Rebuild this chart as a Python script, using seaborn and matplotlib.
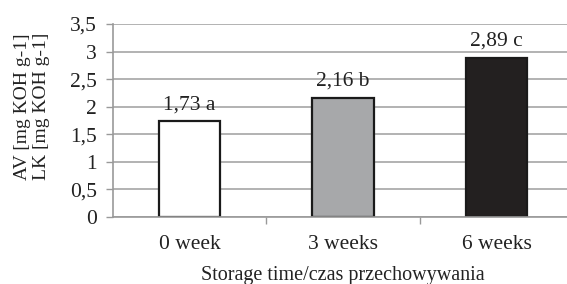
import matplotlib
matplotlib.use("Agg")
import matplotlib.pyplot as plt
import pandas as pd
import seaborn as sns
from matplotlib.ticker import FixedLocator, FuncFormatter

# data
categories = ["0 week", "3 weeks", "6 weeks"]
values = [1.73, 2.16, 2.89]
groups = ["a", "b", "c"]
bar_colors = ["#ffffff", "#a7a8aa", "#231f20"]
y_ticks = [0, 0.5, 1, 1.5, 2, 2.5, 3, 3.5]

sns.set_theme(style="white")
plt.rcParams["font.family"] = ["Liberation Serif", "DejaVu Serif"]

df = pd.DataFrame({"storage": categories, "av": values})

fig = plt.figure(figsize=(5.67, 2.84), dpi=100)
ax = fig.add_axes([0.1988, 0.2370, 0.8122, 0.6785])

sns.barplot(data=df, x="storage", y="av", hue="storage", palette=bar_colors,
            width=0.4, edgecolor="#1a1a1a", linewidth=1.6, legend=False,
            ax=ax, zorder=3)

labels = [f"{v:.2f}".replace(".", ",") + f" {g}" for v, g in zip(values, groups)]
for cont, lab in zip(ax.containers, labels):
    ax.bar_label(cont, labels=[lab], padding=5, fontsize=15.5, color="#222222")

ax.set_ylim(0, 3.5)
ax.set_xlim(-0.5, 2.5)
ax.yaxis.set_major_locator(FixedLocator(y_ticks))
ax.yaxis.set_major_formatter(FuncFormatter(lambda v, p: f"{v:g}".replace(".", ",")))
ax.yaxis.grid(True, color="#a6a6a6", linewidth=1.2, zorder=0)
ax.set_axisbelow(True)

ax.xaxis.set_minor_locator(FixedLocator([0.5, 1.5]))
ax.tick_params(axis="x", which="major", length=0, pad=13, labelsize=15.5,
               colors="#222222")
ax.tick_params(axis="x", which="minor", length=5, width=1, color="#999999",
               direction="out", bottom=True)
ax.tick_params(axis="y", which="major", length=5, width=1, color="#999999",
               direction="out", left=True, pad=6.5, labelsize=15.5,
               labelcolor="#222222")

for side in ["top", "right"]:
    ax.spines[side].set_visible(False)
for side in ["left", "bottom"]:
    ax.spines[side].set_color("#999999")
    ax.spines[side].set_linewidth(1.2)
    ax.spines[side].set_zorder(4)

ax.set_xlabel("Storage time/czas przechowywania", fontsize=14.5,
              color="#222222", labelpad=8.5)
ax.set_ylabel("AV [mg KOH g-1]\nLK [mg KOH g-1]", fontsize=14,
              color="#222222", linespacing=1.15)
ax.yaxis.set_label_coords(-0.136, 0.572)

fig.savefig("out.png", dpi=100)
plt.close(fig)
